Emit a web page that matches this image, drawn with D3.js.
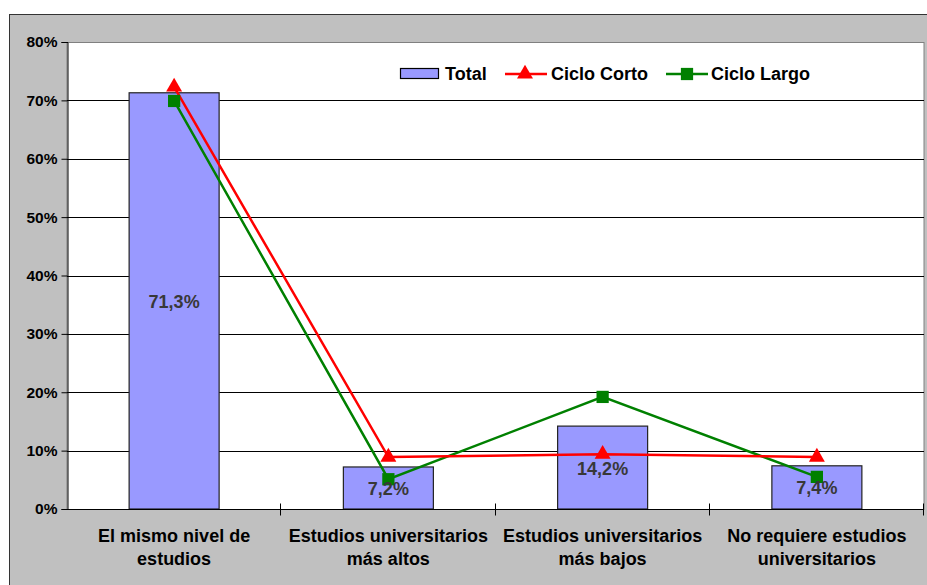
<!DOCTYPE html>
<html>
<head>
<meta charset="utf-8">
<script src="https://cdn.jsdelivr.net/npm/d3@7"></script>
<style>
  html, body { margin: 0; padding: 0; background: #fff; }
  svg { display: block; font-family: "Liberation Sans", Arial, sans-serif; font-weight: bold; }
</style>
</head>
<body>
<svg id="chart" width="927" height="585"></svg>
<script>
// categories and series
var categories = [
  ["El mismo nivel de", "estudios"],
  ["Estudios universitarios", "más altos"],
  ["Estudios universitarios", "más bajos"],
  ["No requiere estudios", "universitarios"]
];
var total = [71.3, 7.2, 14.2, 7.4];
var cicloCorto = [72.3, 8.9, 9.4, 8.9];
var cicloLargo = [69.9, 5.1, 19.2, 5.5];
var yTicks = [0, 10, 20, 30, 40, 50, 60, 70, 80];

var svg = d3.select("#chart");

var plot = {left: 67, top: 42, right: 924, bottom: 509};

// outer chart area
svg.append("rect")
    .attr("x", 9.5).attr("y", 14.5)
    .attr("width", 940).attr("height", 600)
    .attr("fill", "#c0c0c0")
    .attr("stroke", "#333").attr("stroke-width", 1);

svg.append("rect")
    .attr("x", plot.left).attr("y", plot.top + 0.5)
    .attr("width", plot.right - plot.left).attr("height", plot.bottom - plot.top)
    .attr("fill", "#fff")
    .attr("stroke", "#808080").attr("stroke-width", 1);

var x = d3.scaleBand()
    .domain(d3.range(categories.length))
    .range([plot.left, plot.right])
    .paddingInner(0).paddingOuter(0);

var y = d3.scaleLinear().domain([0, 80]).range([plot.bottom, plot.top]);

var fmt = function(v) { return String(v).replace(".", ",") + "%"; };

// gridlines
svg.append("g").selectAll("line")
    .data(yTicks.slice(1, -1))
    .join("line")
    .attr("x1", plot.left).attr("x2", plot.right)
    .attr("y1", function(d) { return Math.round(y(d)) + 0.5; })
    .attr("y2", function(d) { return Math.round(y(d)) + 0.5; })
    .attr("stroke", "#000").attr("stroke-width", 1);

// bars
var barW = 90;
svg.append("g").selectAll("rect")
    .data(total)
    .join("rect")
    .attr("x", function(d, i) { return x(i) + x.bandwidth() / 2 - barW / 2; })
    .attr("y", function(d) { return y(d); })
    .attr("width", barW)
    .attr("height", function(d) { return y(0) - y(d); })
    .attr("fill", "#9999ff")
    .attr("stroke", "#222").attr("stroke-width", 1.2);

// y axis
var yAxis = svg.append("g")
    .attr("transform", "translate(" + (plot.left + 0.5) + ",0)")
    .call(d3.axisLeft(y).tickValues(yTicks).tickSize(6).tickPadding(4)
      .tickFormat(function(d) { return d + "%"; }));
yAxis.select(".domain").attr("stroke", "#000");
yAxis.selectAll(".tick line").attr("stroke", "#000");
yAxis.selectAll("text").attr("font-size", 15.5).attr("font-weight", "bold")
    .attr("font-family", "Liberation Sans, Arial, sans-serif").attr("fill", "#000");

// x axis (ticks between categories)
var xAxisG = svg.append("g").attr("transform", "translate(0," + (plot.bottom + 0.5) + ")");
xAxisG.append("line")
    .attr("x1", plot.left).attr("x2", plot.right)
    .attr("stroke", "#000");
xAxisG.selectAll("line.tk")
    .data(d3.range(1, categories.length + 1))
    .join("line").attr("class", "tk")
    .attr("x1", function(i) { return Math.round(plot.left + i * x.step()) - 0.5; })
    .attr("x2", function(i) { return Math.round(plot.left + i * x.step()) - 0.5; })
    .attr("y1", -6).attr("y2", 6)
    .attr("stroke", "#000");

var catText = svg.append("g").selectAll("text")
    .data(categories)
    .join("text")
    .attr("x", function(d, i) { return x(i) + x.bandwidth() / 2; })
    .attr("y", 542)
    .attr("text-anchor", "middle")
    .attr("font-size", 18)
    .attr("fill", "#000");
catText.selectAll("tspan")
    .data(function(d) { return d; })
    .join("tspan")
    .attr("x", function() { return d3.select(this.parentNode).attr("x"); })
    .attr("dy", function(d, j) { return j === 0 ? 0 : 23; })
    .text(function(d) { return d; });

// lines
var line = d3.line()
    .x(function(d, i) { return x(i) + x.bandwidth() / 2; })
    .y(function(d) { return y(d); });

svg.append("path").datum(cicloLargo)
    .attr("d", line).attr("fill", "none")
    .attr("stroke", "#008000").attr("stroke-width", 2.5);
svg.append("path").datum(cicloCorto)
    .attr("d", line).attr("fill", "none")
    .attr("stroke", "#ff0000").attr("stroke-width", 2.5);

var tri = d3.symbol().type(d3.symbolTriangle).size(110);
var sq = d3.symbol().type(d3.symbolSquare).size(150);

svg.append("g").selectAll("path")
    .data(cicloLargo)
    .join("path")
    .attr("d", sq)
    .attr("transform", function(d, i) { return "translate(" + (x(i) + x.bandwidth() / 2) + "," + y(d) + ")"; })
    .attr("fill", "#008000");
svg.append("g").selectAll("path")
    .data(cicloCorto)
    .join("path")
    .attr("d", tri)
    .attr("transform", function(d, i) { return "translate(" + (x(i) + x.bandwidth() / 2) + "," + y(d) + ")"; })
    .attr("fill", "#ff0000");

// data labels
svg.append("g").selectAll("text")
    .data(total)
    .join("text")
    .attr("x", function(d, i) { return x(i) + x.bandwidth() / 2; })
    .attr("y", function(d) { return (y(d) + y(0)) / 2 + 7; })
    .attr("text-anchor", "middle")
    .attr("font-size", 18)
    .attr("fill", "#383838")
    .text(fmt);

// legend
var lg = svg.append("g").attr("transform", "translate(0,74)");
lg.append("rect").attr("x", 400.5).attr("y", -5.5).attr("width", 38).attr("height", 10)
    .attr("fill", "#9999ff").attr("stroke", "#000").attr("stroke-width", 1.2);
lg.append("text").attr("x", 445).attr("y", 6).attr("font-size", 18).text("Total");

lg.append("line").attr("x1", 505).attr("x2", 547).attr("stroke", "#ff0000").attr("stroke-width", 2.5);
lg.append("path").attr("d", tri).attr("transform", "translate(525,0)").attr("fill", "#ff0000");
lg.append("text").attr("x", 551).attr("y", 6).attr("font-size", 18).text("Ciclo Corto");

lg.append("line").attr("x1", 666).attr("x2", 708).attr("stroke", "#008000").attr("stroke-width", 2.5);
lg.append("path").attr("d", sq).attr("transform", "translate(687,0)").attr("fill", "#008000");
lg.append("text").attr("x", 711).attr("y", 6).attr("font-size", 18).text("Ciclo Largo");
</script>
</body>
</html>
